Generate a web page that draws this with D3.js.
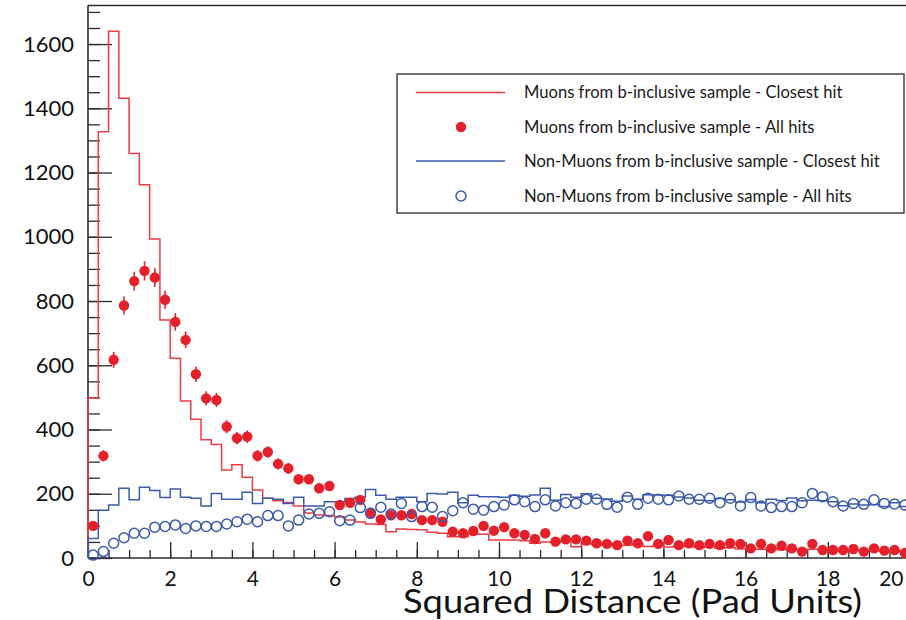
<!DOCTYPE html>
<html>
<head>
<meta charset="utf-8">
<script src="https://cdn.jsdelivr.net/npm/d3@7"></script>
<style>
  html, body { margin: 0; padding: 0; background: #fff; }
  svg { display: block; font-family: Lato, "Noto Sans", sans-serif; }
</style>
</head>
<body>
<svg id="chart" width="906" height="620"></svg>
<script>
// Squared distance binning: 80 bins of 0.25 pad units each
const binWidth = 0.25;
const binCount = 80;

// Muons from b-inclusive sample, closest hit (histogram outline)
const muonClosest = [
  498, 1327, 1640, 1431, 1259, 1162, 993, 741, 622, 489,
  432, 368, 353, 274, 290, 251, 212, 186, 178, 173,
  162, 140, 134, 132, 128, 118, 112, 106, 104, 82,
  90, 89, 88, 80, 77, 66, 66, 75, 74, 56,
  56, 56, 54, 46, 50, 48, 52, 35, 44, 42,
  45, 38, 40, 44, 36, 40, 34, 38, 36, 33,
  35, 30, 32, 28, 30, 27, 31, 26, 28, 24,
  27, 25, 26, 22, 25, 23, 24, 21, 23, 20
];

// Muons from b-inclusive sample, all hits (filled markers with errors)
const muonAll = [
  100, 318, 617, 786, 862, 894, 873, 804, 735, 679,
  572, 497, 492, 409, 373, 378, 318, 330, 293, 279,
  245, 245, 217, 224, 165, 172, 181, 141, 120, 133,
  133, 137, 118, 118, 113, 82, 77, 84, 100, 85,
  96, 77, 72, 59, 77, 51, 58, 58, 54, 46,
  44, 40, 54, 46, 68, 44, 56, 40, 46, 40,
  44, 40, 46, 44, 30, 44, 30, 38, 30, 20,
  44, 25, 25, 25, 28, 20, 30, 23, 25, 16
];

// Non-muons from b-inclusive sample, closest hit (histogram outline)
const nonMuonClosest = [
  61, 149, 165, 217, 181, 220, 210, 188, 215, 189,
  186, 162, 201, 183, 183, 205, 170, 186, 183, 170,
  189, 162, 162, 175, 175, 185, 189, 213, 195, 183,
  189, 189, 175, 201, 199, 205, 172, 195, 191, 191,
  189, 195, 192, 196, 217, 180, 198, 189, 200, 186,
  184, 177, 193, 183, 197, 196, 195, 190, 187, 180,
  178, 185, 181, 174, 182, 172, 183, 179, 187, 178,
  180, 178, 175, 163, 168, 165, 166, 160, 172, 160
];

// Non-muons from b-inclusive sample, all hits (open markers)
const nonMuonAll = [
  9, 20, 46, 63, 77, 77, 96, 98, 103, 92,
  100, 98, 98, 106, 113, 121, 113, 132, 132, 100,
  118, 137, 139, 144, 116, 118, 157, 139, 158, 137,
  170, 129, 160, 158, 129, 147, 172, 152, 149, 160,
  165, 181, 175, 160, 181, 162, 172, 170, 183, 183,
  167, 158, 189, 167, 186, 183, 181, 193, 183, 183,
  186, 172, 186, 162, 188, 162, 157, 160, 160, 172,
  201, 191, 175, 162, 170, 167, 181, 170, 168, 165
];

// Axis tick values
const xMajorTicks = [0, 2, 4, 6, 8, 10, 12, 14, 16, 18, 20];
const yMajorTicks = [0, 200, 400, 600, 800, 1000, 1200, 1400, 1600];

const legendLabels = [
  "Muons from b-inclusive sample - Closest hit",
  "Muons from b-inclusive sample - All hits",
  "Non-Muons from b-inclusive sample - Closest hit",
  "Non-Muons from b-inclusive sample - All hits"
];

const RED_LINE = "#ee3a43";
const RED_MARK = "#e6202a";
const BLUE = "#3b5aab";
const AXIS = "#2b2b2b";

const svg = d3.select("#chart");
const plotLeft = 88, plotRight = 910, plotTop = 5.5, plotBottom = 558;

const x = d3.scaleLinear().domain([0, 20]).range([plotLeft, plotRight]);
const y = d3.scaleLinear().domain([0, 1720]).range([plotBottom, plotTop]);

const centers = d3.range(binCount).map(i => (i + 0.5) * binWidth);

// step outline of a histogram, rising from the baseline at x = 0
function stepPoints(values) {
  const pts = [[0, 0]];
  values.forEach((v, i) => pts.push([i * binWidth, v]));
  pts.push([binCount * binWidth, values[values.length - 1]]);
  return pts;
}
const stepLine = d3.line()
  .x(d => x(d[0]))
  .y(d => y(d[1]))
  .curve(d3.curveStepAfter);

// frame line along the top
svg.append("line")
  .attr("x1", plotLeft).attr("x2", plotRight)
  .attr("y1", plotTop).attr("y2", plotTop)
  .attr("stroke", AXIS).attr("stroke-width", 1.6);

// minor ticks
svg.append("g")
  .attr("transform", `translate(0,${plotBottom})`)
  .call(d3.axisBottom(x).tickValues(d3.range(0, 20.001, 0.5)).tickSize(-8).tickFormat(""))
  .call(g => g.select(".domain").remove())
  .call(g => g.selectAll("line").attr("stroke", AXIS).attr("stroke-width", 1.3));

svg.append("g")
  .attr("transform", `translate(${plotLeft},0)`)
  .call(d3.axisLeft(y).tickValues(d3.range(0, 1720, 50)).tickSize(-12).tickFormat(""))
  .call(g => g.select(".domain").remove())
  .call(g => g.selectAll("line").attr("stroke", AXIS).attr("stroke-width", 1.3));

// major ticks and labels
const xAxis = svg.append("g")
  .attr("transform", `translate(0,${plotBottom})`)
  .call(d3.axisBottom(x).tickValues(xMajorTicks).tickSize(-16).tickPadding(13)
    .tickSizeOuter(0).tickFormat(d3.format("d")));
xAxis.select(".domain").attr("d", `M${plotLeft},0H906`).attr("stroke", AXIS).attr("stroke-width", 1.6);
xAxis.selectAll("line").attr("stroke", AXIS).attr("stroke-width", 1.3);
xAxis.selectAll("text")
  .attr("fill", "#111").style("font-size", "21px").style("font-family", "Lato, sans-serif");
// keep the last label inside the canvas
xAxis.selectAll(".tick").filter(d => d === 20).select("text")
  .attr("text-anchor", "end").attr("dx", "-7");

const yAxis = svg.append("g")
  .attr("transform", `translate(${plotLeft},0)`)
  .call(d3.axisLeft(y).tickValues(yMajorTicks).tickSize(-24).tickPadding(14)
    .tickSizeOuter(0).tickFormat(d3.format("d")));
yAxis.select(".domain").attr("d", `M0,${plotBottom}V${plotTop}`).attr("stroke", AXIS).attr("stroke-width", 1.6);
yAxis.selectAll("line").attr("stroke", AXIS).attr("stroke-width", 1.3);
yAxis.selectAll("text")
  .attr("fill", "#111").style("font-size", "22px").style("font-family", "Lato, sans-serif");

// histograms
svg.append("path")
  .attr("d", stepLine(stepPoints(muonClosest)))
  .attr("fill", "none").attr("stroke", RED_LINE).attr("stroke-width", 1.5);

svg.append("path")
  .attr("d", stepLine(stepPoints(nonMuonClosest)))
  .attr("fill", "none").attr("stroke", BLUE).attr("stroke-width", 1.5);

// muon all-hits markers with Poisson error bars
const muonPts = svg.append("g");
muonPts.selectAll("line")
  .data(muonAll)
  .join("line")
  .attr("x1", (d, i) => x(centers[i])).attr("x2", (d, i) => x(centers[i]))
  .attr("y1", d => y(d - Math.sqrt(d))).attr("y2", d => y(d + Math.sqrt(d)))
  .attr("stroke", RED_MARK).attr("stroke-width", 1.6);
muonPts.selectAll("circle")
  .data(muonAll)
  .join("circle")
  .attr("cx", (d, i) => x(centers[i]))
  .attr("cy", d => y(d))
  .attr("r", 5.2)
  .attr("fill", RED_MARK);

// non-muon all-hits markers
svg.append("g").selectAll("circle")
  .data(nonMuonAll)
  .join("circle")
  .attr("cx", (d, i) => x(centers[i]))
  .attr("cy", d => y(d))
  .attr("r", 5)
  .attr("fill", "none")
  .attr("stroke", BLUE)
  .attr("stroke-width", 1.5);

// legend
const legend = svg.append("g").attr("transform", "translate(397,74)");
legend.append("rect")
  .attr("width", 507).attr("height", 139)
  .attr("fill", "#fff").attr("stroke", "#444").attr("stroke-width", 1.5);
const rowY = [18.5, 53, 87, 122];
legend.append("line").attr("x1", 19).attr("x2", 108).attr("y1", rowY[0]).attr("y2", rowY[0])
  .attr("stroke", RED_LINE).attr("stroke-width", 1.5);
legend.append("circle").attr("cx", 64).attr("cy", rowY[1]).attr("r", 5.2).attr("fill", RED_MARK);
legend.append("line").attr("x1", 19).attr("x2", 108).attr("y1", rowY[2]).attr("y2", rowY[2])
  .attr("stroke", BLUE).attr("stroke-width", 1.5);
legend.append("circle").attr("cx", 64).attr("cy", rowY[3]).attr("r", 5)
  .attr("fill", "none").attr("stroke", BLUE).attr("stroke-width", 1.5);
legend.selectAll("text.entry")
  .data(legendLabels)
  .join("text")
  .attr("class", "entry")
  .attr("x", 127)
  .attr("y", (d, i) => rowY[i])
  .attr("dy", "0.36em")
  .attr("fill", "#1a1a1a")
  .style("font-size", "16.6px")
  .text(d => d);

// axis title
svg.append("text")
  .attr("x", 862).attr("y", 613)
  .attr("text-anchor", "end")
  .attr("fill", "#111")
  .attr("textLength", 459)
  .attr("lengthAdjust", "spacingAndGlyphs")
  .style("font-size", "33px")
  .text("Squared Distance (Pad Units)");
</script>
</body>
</html>
